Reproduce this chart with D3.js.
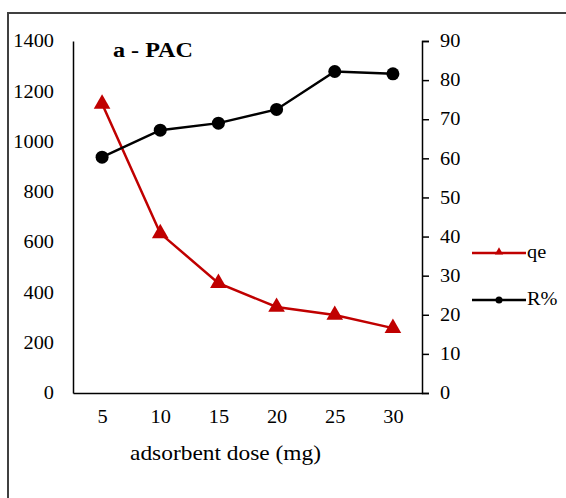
<!DOCTYPE html>
<html>
<head>
<meta charset="utf-8">
<script src="https://cdn.jsdelivr.net/npm/d3@7"></script>
<style>
  body { margin: 0; background: #fff; }
  svg { display: block; }
</style>
</head>
<body>
<svg id="chart" width="566" height="498"></svg>
<script>
// values
var doses = [5, 10, 15, 20, 25, 30];
var qe = [1150, 635, 437, 342, 310, 258];
var removal = [60.3, 67.2, 69, 72.5, 82.2, 81.6];
var leftTicks = [0, 200, 400, 600, 800, 1000, 1200, 1400];
var rightTicks = [0, 10, 20, 30, 40, 50, 60, 70, 80, 90];

var svg = d3.select("#chart");
var font = "'Liberation Serif', 'Times New Roman', serif";
var red = "#c00000";
var sx = 1.13; // source figure text is a bit wide

var margin = { top: 41, left: 73, right: 144, bottom: 105 },
    width = 566 - margin.left - margin.right,
    height = 498 - margin.top - margin.bottom;

// widen a text in place around its anchor
function stretch(sel, k) {
    sel.each(function() {
        var t = d3.select(this);
        var tx = +t.attr("x") || 0, ty = +t.attr("y") || 0;
        t.attr("transform", "translate(" + tx + "," + ty + ") scale(" + k + ",1) translate(" + (-tx) + "," + (-ty) + ")");
    });
}

// outer frame (runs off the right and bottom edges)
svg.append("rect")
    .attr("x", 8).attr("y", 13)
    .attr("width", 600).attr("height", 600)
    .attr("fill", "none")
    .attr("stroke", "#404040")
    .attr("stroke-width", 2);

var g = svg.append("g")
    .attr("transform", "translate(" + margin.left + "," + margin.top + ")");

var x = d3.scalePoint()
    .domain(doses)
    .range([0, width])
    .padding(0.5);

var yLeft = d3.scaleLinear().domain([0, 1400]).range([height, 0]);
var yRight = d3.scaleLinear().domain([0, 90]).range([height, 0]);

// x axis
var xAxis = g.append("g")
    .attr("transform", "translate(0," + height + ")")
    .call(d3.axisBottom(x).tickSize(0).tickPadding(17));
xAxis.select(".domain").attr("stroke", "#000").attr("stroke-width", 1.5);

// left axis, no tick marks
var lAxis = g.append("g")
    .call(d3.axisLeft(yLeft).tickValues(leftTicks).tickFormat(d3.format("d")).tickSize(0).tickPadding(19));
lAxis.select(".domain").attr("stroke", "#000").attr("stroke-width", 1.5);

// right axis with outward ticks
var rAxis = g.append("g")
    .attr("transform", "translate(" + width + ",0)")
    .call(d3.axisRight(yRight).tickValues(rightTicks).tickSize(7).tickSizeOuter(7).tickPadding(11));
rAxis.selectAll(".domain, .tick line").attr("stroke", "#000").attr("stroke-width", 1.5);

g.selectAll(".tick text")
    .attr("font-family", font)
    .attr("font-size", 18)
    .attr("fill", "#000")
    .call(stretch, sx);

// x axis title
g.append("text")
    .attr("x", width / 2 - 22)
    .attr("y", height + 67)
    .attr("text-anchor", "middle")
    .attr("font-family", font)
    .attr("font-size", 20)
    .text("adsorbent dose (mg)")
    .call(stretch, 1.17);

// chart label
g.append("text")
    .attr("x", 40)
    .attr("y", 16)
    .attr("font-family", font)
    .attr("font-size", 21)
    .attr("font-weight", "bold")
    .text("a - PAC")
    .call(stretch, 1.15);

var triangle = d3.symbol().type(d3.symbolTriangle);

// qe series
var qeLine = d3.line()
    .x(function(d, i) { return x(doses[i]); })
    .y(function(d) { return yLeft(d); });

g.append("path")
    .datum(qe)
    .attr("d", qeLine)
    .attr("fill", "none")
    .attr("stroke", red)
    .attr("stroke-width", 2.5);

g.selectAll(".qe-pt")
    .data(qe)
    .enter().append("path")
    .attr("class", "qe-pt")
    .attr("transform", function(d, i) { return "translate(" + x(doses[i]) + "," + yLeft(d) + ")"; })
    .attr("d", triangle.size(120))
    .attr("fill", red);

// R% series
var rLine = d3.line()
    .x(function(d, i) { return x(doses[i]); })
    .y(function(d) { return yRight(d); });

g.append("path")
    .datum(removal)
    .attr("d", rLine)
    .attr("fill", "none")
    .attr("stroke", "#000")
    .attr("stroke-width", 2.5);

g.selectAll(".r-pt")
    .data(removal)
    .enter().append("circle")
    .attr("class", "r-pt")
    .attr("cx", function(d, i) { return x(doses[i]); })
    .attr("cy", function(d) { return yRight(d); })
    .attr("r", 6.5)
    .attr("fill", "#000");

// legend
var legend = svg.append("g").attr("transform", "translate(472,253)");
var items = [
    { name: "qe", color: red, shape: "tri", dy: 0 },
    { name: "R%", color: "#000", shape: "circ", dy: 47 }
];
items.forEach(function(it) {
    var row = legend.append("g").attr("transform", "translate(0," + it.dy + ")");
    row.append("line")
        .attr("x1", 0).attr("x2", 54)
        .attr("stroke", it.color)
        .attr("stroke-width", 2.5);
    if (it.shape === "tri") {
        row.append("path")
            .attr("transform", "translate(27,-1)")
            .attr("d", d3.symbol().type(d3.symbolTriangle).size(30))
            .attr("fill", it.color);
    } else {
        row.append("circle").attr("cx", 27).attr("r", 3.5).attr("fill", it.color);
    }
    row.append("text")
        .attr("x", 55)
        .attr("y", 5)
        .attr("font-family", font)
        .attr("font-size", 18)
        .text(it.name)
        .call(stretch, sx);
});
</script>
</body>
</html>
